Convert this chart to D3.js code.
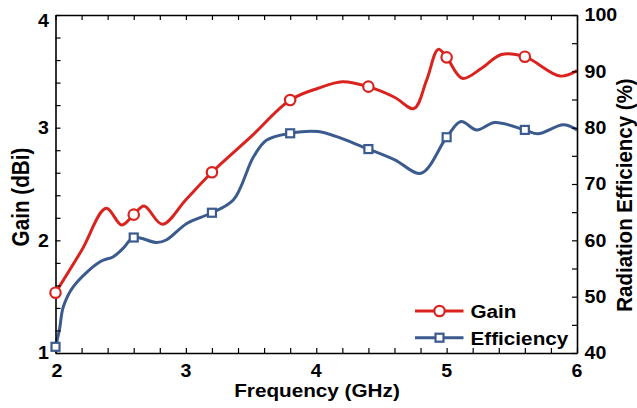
<!DOCTYPE html>
<html><head><meta charset="utf-8">
<script src="https://cdn.jsdelivr.net/npm/d3@7"></script>
<style>body{margin:0;background:#fff}svg{display:block}text{font-family:"Liberation Sans",Arial,sans-serif;font-weight:bold;fill:#000}</style>
</head><body><svg id="c" width="637" height="408"></svg>
<script>
const gainFreq = [2.0,2.2,2.388,2.508,2.6,2.679,2.82,3.0,3.2,3.5,3.8,4.015,4.2,4.4,4.6,4.749,4.846,4.936,5.0,5.12,5.268,5.42,5.6,5.87,6.0];
const gainVals = [1.535,1.91,2.284,2.136,2.228,2.305,2.142,2.36,2.604,2.92,3.245,3.35,3.408,3.364,3.27,3.17,3.42,3.695,3.624,3.438,3.527,3.65,3.63,3.458,3.506];
const effFreq = [2.0,2.03,2.06,2.137,2.342,2.444,2.52,2.6,2.777,2.853,3.007,3.2,3.365,3.518,3.62,3.8,4.015,4.4,4.603,4.803,5.0,5.11,5.23,5.37,5.6,5.70,5.895,6.0];
const effVals = [41.1,44.1,48.2,51.8,56.2,57.1,58.6,60.5,59.6,60.1,63.0,64.9,67.2,74.8,77.8,79.0,79.3,76.2,74.3,71.9,78.3,81.1,79.6,80.9,79.6,78.9,80.5,79.6];
const markerFreq = [2.0,2.6,3.2,3.8,4.4,5.0,5.6];
const gainMarkers = [1.535,2.228,2.604,3.245,3.364,3.624,3.63];
const effMarkers = [41.1,60.5,64.9,79.0,76.2,78.3,79.6];
const xTicks = [2,3,4,5,6];
const gainTicks = [1,2,3,4];
const effTicks = [40,50,60,70,80,90,100];
const seriesNames = ["Gain","Efficiency"];
const colors = {gain:"#d9231f", eff:"#3b5b8f"};

const SX = 1.12; // horizontal stretch of the original picture
const svg = d3.select("#c");
const L=55.5,R=577,T=15,B=353;
const x = d3.scaleLinear().domain([2,6]).range([L,R]);
const yG = d3.scaleLinear().domain([1,4]).range([B,T]);
const yE = d3.scaleLinear().domain([40,100]).range([B,T]);

function txt(px,py,s,size,anchor,rot){
  return svg.append("text").attr("transform",`translate(${px},${py}) scale(${SX},1)`+(rot?" rotate(-90)":""))
    .attr("text-anchor",anchor||"start").attr("font-size",size).text(s);
}

// curves
const lineG = d3.line().x((d,i)=>x(gainFreq[i])).y(d=>yG(d)).curve(d3.curveCatmullRom.alpha(0.5));
const lineE = d3.line().x((d,i)=>x(effFreq[i])).y(d=>yE(d)).curve(d3.curveCatmullRom.alpha(0.5));
svg.append("path").attr("d",lineE(effVals)).attr("fill","none").attr("stroke",colors.eff).attr("stroke-width",3);
svg.append("path").attr("d",lineG(gainVals)).attr("fill","none").attr("stroke",colors.gain).attr("stroke-width",3);

// axes
function styleAxis(g){g.select(".domain").attr("stroke","#000").attr("stroke-width",1.6);g.selectAll(".tick line").attr("stroke","#000").attr("stroke-width",1.2);g.selectAll("text").remove();}
const xMinor = d3.range(2,6.001,0.2);
svg.append("g").attr("transform",`translate(0,${B})`).call(d3.axisBottom(x).tickValues(xMinor).tickSize(-5).tickSizeOuter(0)).call(styleAxis);
svg.append("g").attr("transform",`translate(0,${T})`).call(d3.axisTop(x).tickValues(xMinor).tickSize(-5).tickSizeOuter(0)).call(styleAxis);
svg.append("g").attr("transform",`translate(${L},0)`).call(d3.axisLeft(yG).tickValues(d3.range(1,4.001,0.2)).tickSize(-5).tickSizeOuter(0)).call(styleAxis);
svg.append("g").attr("transform",`translate(${R},0)`).call(d3.axisRight(yE).tickValues(d3.range(40,100.1,5)).tickSize(-5).tickSizeOuter(0)).call(styleAxis);

// markers
svg.selectAll(".mg").data(gainMarkers).enter().append("circle")
  .attr("cx",(d,i)=>x(markerFreq[i])).attr("cy",d=>yG(d)).attr("r",5.2)
  .attr("fill","#fff").attr("stroke",colors.gain).attr("stroke-width",2.2);
svg.selectAll(".me").data(effMarkers).enter().append("rect")
  .attr("x",(d,i)=>x(markerFreq[i])-4).attr("y",d=>yE(d)-4).attr("width",8).attr("height",8)
  .attr("fill","#fff").attr("stroke",colors.eff).attr("stroke-width",2.2);

// tick labels
xTicks.forEach(d=>txt(x(d)+(d===2?1.5:0),376.5,d,17.5,"middle"));
gainTicks.forEach(d=>txt(L-6.5,d===4?27:yG(d)+6.2,d,17.5,"end"));
effTicks.forEach(d=>txt(R+7.5,yE(d)+6.2,d,17.5,"start"));

// titles
txt(317,396.5,"Frequency (GHz)",18.5,"middle");
txt(28.5,197,"Gain (dBi)",20.7,"middle",true);
txt(631.5,195,"Radiation Efficiency (%)",20.5,"middle",true);

// legend
[0,1].forEach(i=>{
  const yy = [311,337.7][i], c = i===0?colors.gain:colors.eff;
  svg.append("line").attr("x1",415).attr("x2",463.5).attr("y1",yy).attr("y2",yy).attr("stroke",c).attr("stroke-width",3);
  if(i===0) svg.append("circle").attr("cx",439.5).attr("cy",yy).attr("r",5.2).attr("fill","#fff").attr("stroke",c).attr("stroke-width",2.2);
  else svg.append("rect").attr("x",435.5).attr("y",yy-4).attr("width",8).attr("height",8).attr("fill","#fff").attr("stroke",c).attr("stroke-width",2.2);
  txt(470.5,[318.3,345][i],seriesNames[i],18.5,"start");
});
</script></body></html>
